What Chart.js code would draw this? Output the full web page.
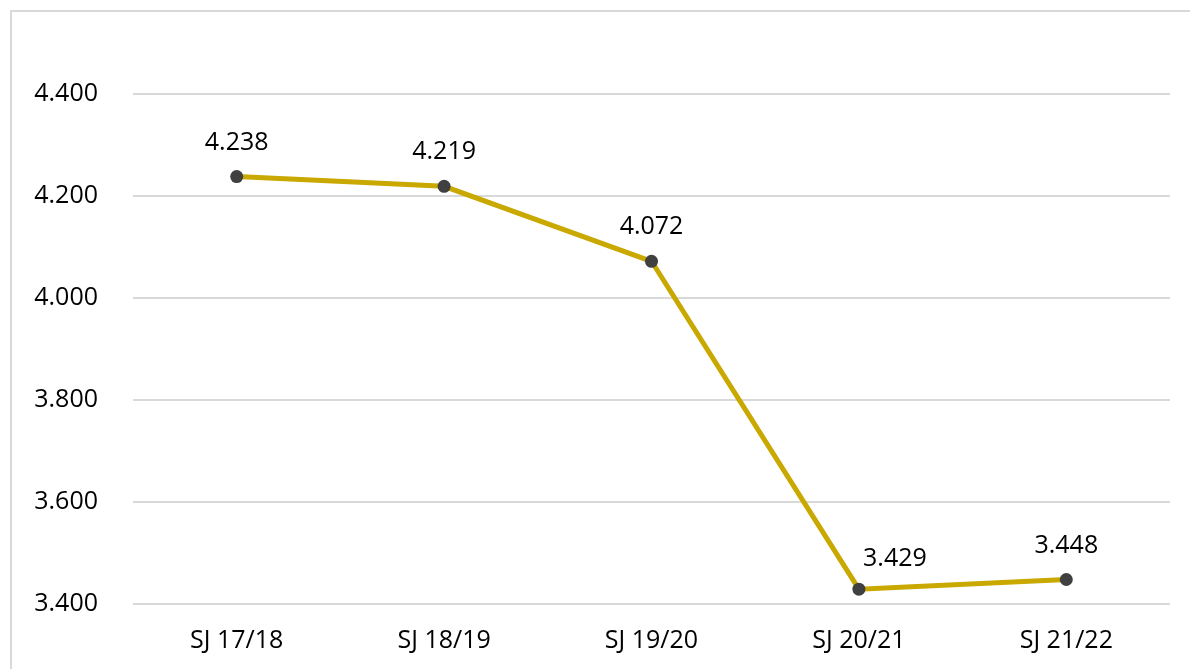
<!DOCTYPE html>
<html>
<head>
<meta charset="utf-8">
<script src="https://cdn.jsdelivr.net/npm/chart.js@4"></script>
<style>
  body { margin: 0; background: #fff; }
  #wrap { position: relative; width: 1190px; height: 669px; }
  #frame { position: absolute; left: 10px; top: 10px; right: 0; bottom: 0;
           border-top: 2px solid #d9d9d9; border-left: 2px solid #d9d9d9; pointer-events: none; }
</style>
</head>
<body>
<div id="wrap">
  <canvas id="lineChart" width="1190" height="669"></canvas>
  <div id="frame"></div>
</div>
<script>
let seasons = ["SJ 17/18", "SJ 18/19", "SJ 19/20", "SJ 20/21", "SJ 21/22"]
let values = [4.238, 4.219, 4.072, 3.429, 3.448]
let yTicks = [3.4, 3.6, 3.8, 4.0, 4.2, 4.4]

let fmt = v => v.toFixed(3)

// value labels above each point, the 20/21 one sits a bit to the right like in the original
let valueLabels = {
  id: 'valueLabels',
  afterDatasetsDraw(chart) {
    let ctx = chart.ctx
    let meta = chart.getDatasetMeta(0)
    ctx.save()
    ctx.font = '25px "Open Sans"'
    ctx.fillStyle = '#000'
    ctx.textAlign = 'center'
    ctx.textBaseline = 'middle'
    meta.data.forEach((pt, i) => {
      let dx = i === 3 ? 36 : 0
      let dy = i === 3 ? 30 : 34
      ctx.fillText(fmt(values[i]), pt.x + dx, pt.y - dy)
    })
    ctx.restore()
  }
}

let lineChart = document.getElementById('lineChart').getContext('2d')
let chart = new Chart(lineChart, {
  type: 'line',
  data: {
    labels: seasons,
    datasets: [{
      label: 'Wert',
      data: values,
      borderColor: '#c9a800',
      borderWidth: 5,
      pointRadius: 6.5,
      pointBackgroundColor: '#404040',
      pointBorderWidth: 0,
      tension: 0
    }]
  },
  options: {
    responsive: false,
    animation: false,
    layout: { padding: { top: 94, right: 20, left: 0, bottom: 0 } },
    plugins: {
      legend: { display: false },
      tooltip: { enabled: false }
    },
    scales: {
      x: {
        offset: true,
        afterFit: axis => { axis.height = 65 },
        grid: { display: false },
        border: { display: false },
        ticks: { color: '#000', font: { family: 'Open Sans', size: 25 }, padding: 14 }
      },
      y: {
        min: yTicks[0],
        max: yTicks[yTicks.length - 1],
        afterBuildTicks: axis => { axis.ticks = yTicks.map(v => ({ value: v })) },
        afterFit: axis => { axis.width = 133 },
        grid: { color: '#d9d9d9', lineWidth: 2, drawTicks: false },
        border: { display: false },
        ticks: { color: '#000', font: { family: 'Open Sans', size: 25 }, padding: 35, callback: v => fmt(v) }
      }
    }
  },
  plugins: [valueLabels]
})
</script>
</body>
</html>
